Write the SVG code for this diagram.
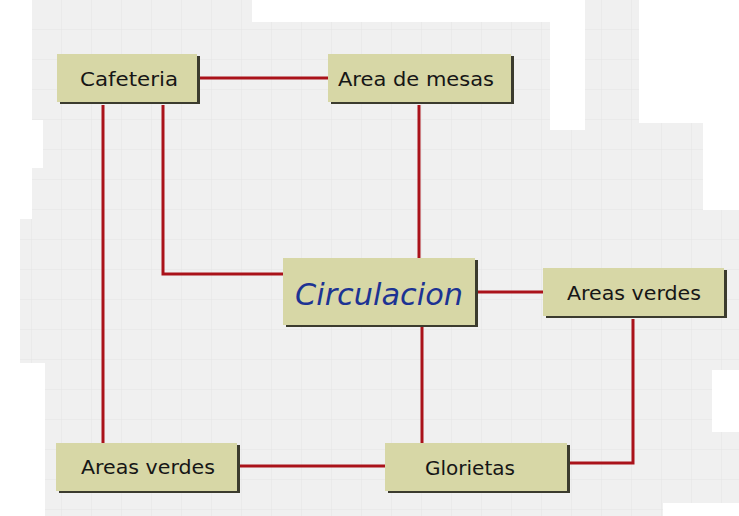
<svg xmlns="http://www.w3.org/2000/svg" width="739" height="516" viewBox="0 0 739 516">
<defs>
<style>
.bg{fill:url(#grid)}
.shadow{fill:#3b3b2e}
.face{fill:#d7d7a6}
.lbl{font-family:"DejaVu Sans","Liberation Sans",sans-serif;font-size:20px;fill:#161616;text-anchor:middle}
.main{font-family:"DejaVu Sans","Liberation Sans",sans-serif;font-size:30px;font-style:italic;fill:#1c3393;text-anchor:middle}
.conn{fill:none;stroke:#aa121a;stroke-width:3}
</style>
<pattern id="grid" width="30" height="30" patternUnits="userSpaceOnUse" x="2" y="0">
<rect width="30" height="30" fill="#f0f0f0"/>
<path d="M30 0V30M0 30H30" stroke="#e4e4e4" stroke-width="1" fill="none"/>
</pattern>
</defs>
<rect width="739" height="516" fill="#ffffff"/>
<path class="bg" d="M32 0H252V22H550V130H585V0H639V123H703V210H739V370H712V432H739V503H663V516H45V363H20V219H32V168H43V120H32Z"/>
<g id="connectors">
<path class="conn" d="M200 78H328"/>
<path class="conn" d="M103 105V443"/>
<path class="conn" d="M163 105V274H283"/>
<path class="conn" d="M419 105V258"/>
<path class="conn" d="M478 292H543"/>
<path class="conn" d="M422 327V443"/>
<path class="conn" d="M633 319V463H570"/>
<path class="conn" d="M240 466H385"/>
</g>
<g id="cafeteria">
<rect class="shadow" x="60" y="56" width="140" height="48"/>
<rect class="face" x="57" y="54" width="140" height="48"/>
<text class="lbl" x="129" y="86" textLength="98" lengthAdjust="spacingAndGlyphs">Cafeteria</text>
</g>
<g id="area-de-mesas">
<rect class="shadow" x="331" y="56" width="183" height="48"/>
<rect class="face" x="328" y="54" width="183" height="48"/>
<text class="lbl" x="416" y="86" textLength="156" lengthAdjust="spacingAndGlyphs">Area de mesas</text>
</g>
<g id="circulacion">
<rect class="shadow" x="286" y="260" width="192" height="67"/>
<rect class="face" x="283" y="258" width="192" height="67"/>
<text class="main" x="379" y="305" textLength="168" lengthAdjust="spacingAndGlyphs">Circulacion</text>
</g>
<g id="areas-verdes-right">
<rect class="shadow" x="546" y="270" width="181" height="48"/>
<rect class="face" x="543" y="268" width="181" height="48"/>
<text class="lbl" x="634" y="300" textLength="134" lengthAdjust="spacingAndGlyphs">Areas verdes</text>
</g>
<g id="areas-verdes-left">
<rect class="shadow" x="59" y="445" width="181" height="48"/>
<rect class="face" x="56" y="443" width="181" height="48"/>
<text class="lbl" x="148" y="474" textLength="134" lengthAdjust="spacingAndGlyphs">Areas verdes</text>
</g>
<g id="glorietas">
<rect class="shadow" x="388" y="445" width="182" height="48"/>
<rect class="face" x="385" y="443" width="182" height="48"/>
<text class="lbl" x="470" y="475" textLength="90" lengthAdjust="spacingAndGlyphs">Glorietas</text>
</g>
</svg>
